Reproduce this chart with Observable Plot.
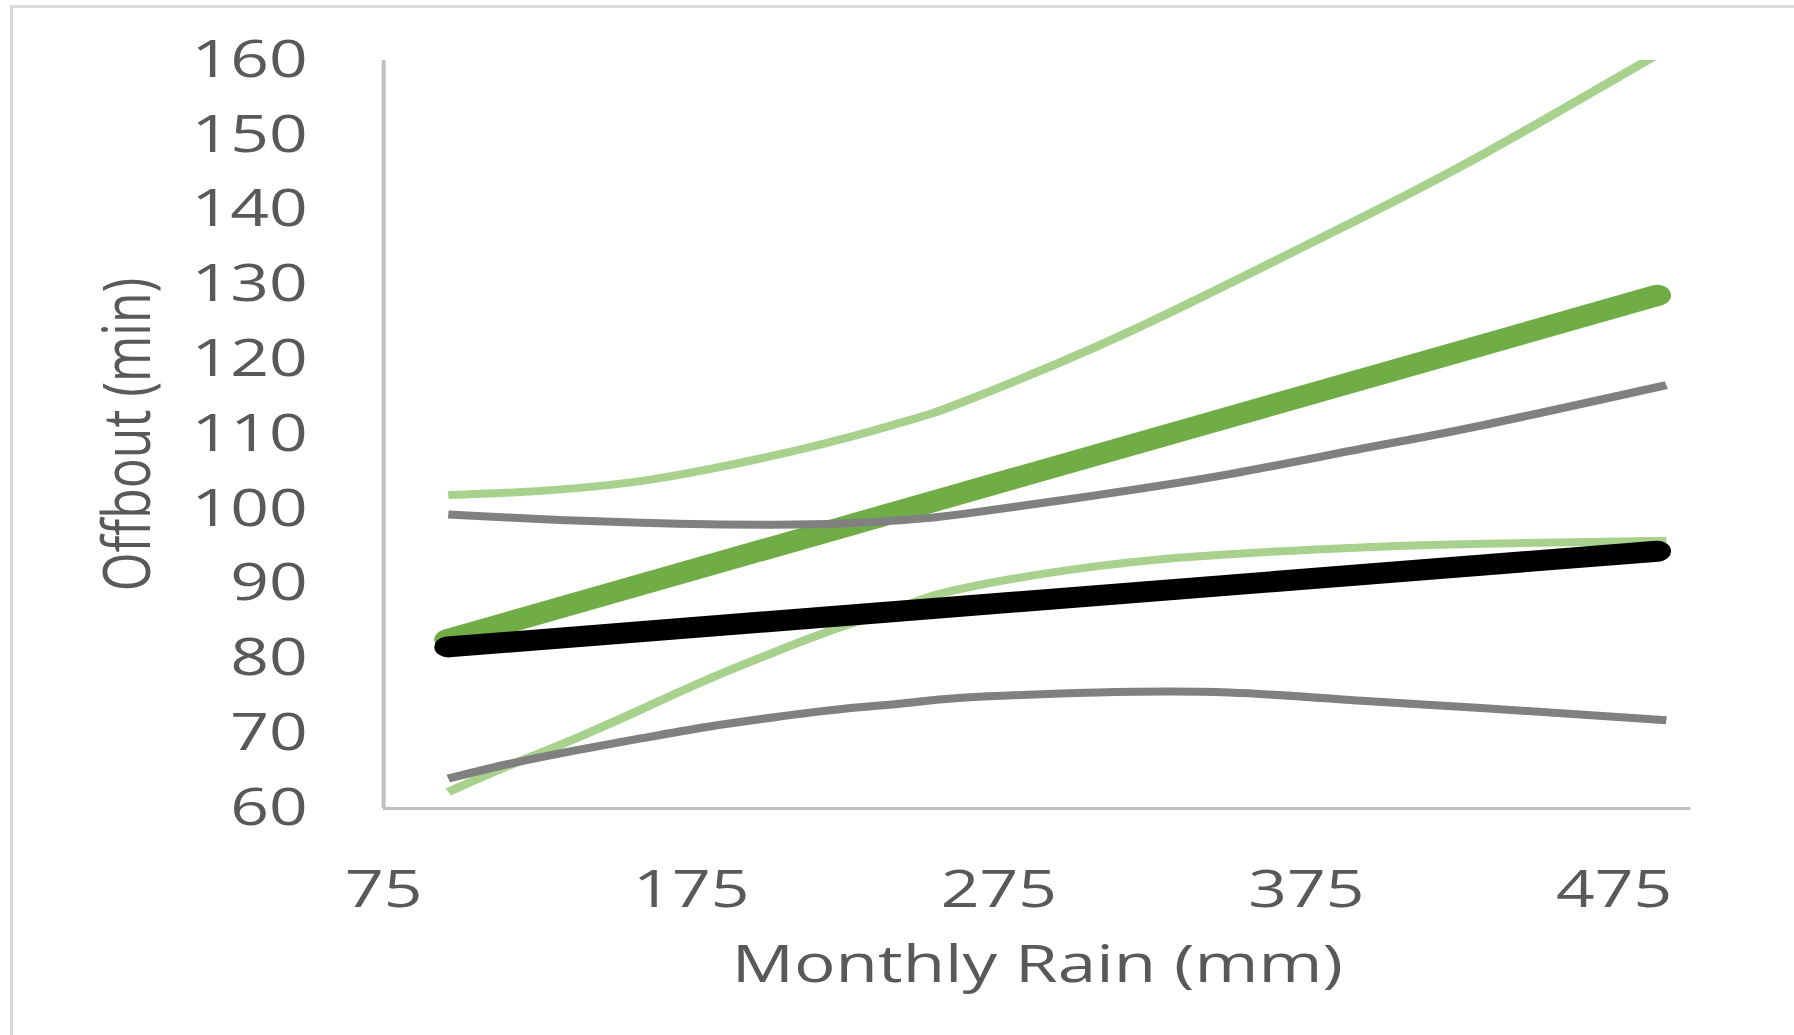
<!DOCTYPE html>
<html>
<head>
<meta charset="utf-8">
<script src="https://cdn.jsdelivr.net/npm/d3@7"></script>
<script src="https://cdn.jsdelivr.net/npm/@observablehq/plot@0.6"></script>
<style>
  html, body { margin: 0; padding: 0; background: #ffffff; overflow: hidden; }
  #wrap { position: relative; width: 1794px; height: 1035px; overflow: hidden; }
  #border { position: absolute; left: 10px; top: 5px; width: 3000px; height: 3000px;
            border: 3px solid #d9d9d9; pointer-events: none; }
</style>
</head>
<body>
<div id="wrap"><div id="border"></div></div>
<script>
// Data
const rain        = [96, 115, 137, 159, 180, 202, 224, 245, 263, 307, 350, 393, 433, 492];
const greenUpper  = [101.9, 102.2, 102.8, 103.8, 105.3, 107.2, 109.4, 111.8, 114.3, 121.8, 130.2, 139.0, 147.6, 161.5];
const greenLower  = [62.2, 65.6, 69.3, 73.3, 77.2, 80.9, 84.3, 87.2, 89.4, 92.4, 94.0, 94.9, 95.4, 95.8];
const grayUpper   = [99.3, 98.9, 98.5, 98.2, 98.0, 97.95, 98.1, 98.6, 99.35, 101.9, 104.7, 108.1, 111.3, 116.6];
const grayLower   = [64.0, 65.9, 67.75, 69.4, 70.9, 72.2, 73.3, 74.1, 74.8, 75.5, 75.5, 74.4, 73.4, 71.8];
const fitRain     = [96, 489];
const greenFit    = [82.6, 128.6];
const blackFit    = [81.6, 94.4];
const xTicks      = [75, 175, 275, 375, 475];
const yTicks      = [60, 70, 80, 90, 100, 110, 120, 130, 140, 150, 160];
const xTitle      = "Monthly Rain (mm)";
const yTitle      = "Offbout (min)";

const series = (xs, ys) => xs.map((x, i) => ({x, y: ys[i]}));

const W0 = 1349, H = 1035, FULLW = 1794;
const mLeft = 288, mRight = 78, mTop = 60, mBottom = 227;
const textColor = "#595959";

const thin = (data, stroke, clip = false) => Plot.line(data, {
  x: "x", y: "y", stroke, strokeWidth: 8, curve: "natural",
  strokeLinecap: "butt", strokeLinejoin: "round", clip
});
const thick = (data, stroke) => Plot.line(data, {
  x: "x", y: "y", stroke, strokeWidth: 21, strokeLinecap: "round"
});

const chart = Plot.plot({
  width: W0,
  height: H,
  marginLeft: mLeft,
  marginRight: mRight,
  marginTop: mTop,
  marginBottom: mBottom,
  x: {domain: [75, 500]},
  y: {domain: [60, 160]},
  style: {fontFamily: "'Open Sans', sans-serif", color: textColor, background: "transparent"},
  marks: [
    Plot.axisX(xTicks, {tickSize: 0, tickPadding: 62, fontSize: 51, label: null, fill: textColor}),
    Plot.axisY(yTicks, {tickSize: 0, tickPadding: 57, fontSize: 51, label: null, fill: textColor}),
    Plot.ruleX([75], {stroke: "#bfbfbf", strokeWidth: 3}),
    Plot.ruleY([60], {stroke: "#bfbfbf", strokeWidth: 3}),
    thick(series(fitRain, greenFit), "#70ad47"),
    thin(series(rain, greenUpper), "#a9d18e", true),
    thin(series(rain, greenLower), "#a9d18e"),
    thick(series(fitRain, blackFit), "#000000"),
    thin(series(rain, grayUpper), "#808080"),
    thin(series(rain, grayLower), "#808080"),
    Plot.text([yTitle], {text: d => d, frameAnchor: "left", dx: -(mLeft - 96), rotate: -90,
      fontSize: 50, fill: textColor, textAnchor: "middle", lineAnchor: "middle"}),
    Plot.text([xTitle], {text: d => d, frameAnchor: "bottom", dy: 157,
      fontSize: 52, fill: textColor, textAnchor: "middle", lineAnchor: "middle"})
  ]
});

// The reference is horizontally stretched: draw at W0 and stretch to the full width
chart.setAttribute("width", FULLW);
chart.setAttribute("height", H);
chart.setAttribute("preserveAspectRatio", "none");
chart.style.width = FULLW + "px";
chart.style.height = H + "px";
chart.style.maxWidth = "none";
chart.style.display = "block";
document.getElementById("wrap").prepend(chart);
</script>
</body>
</html>
